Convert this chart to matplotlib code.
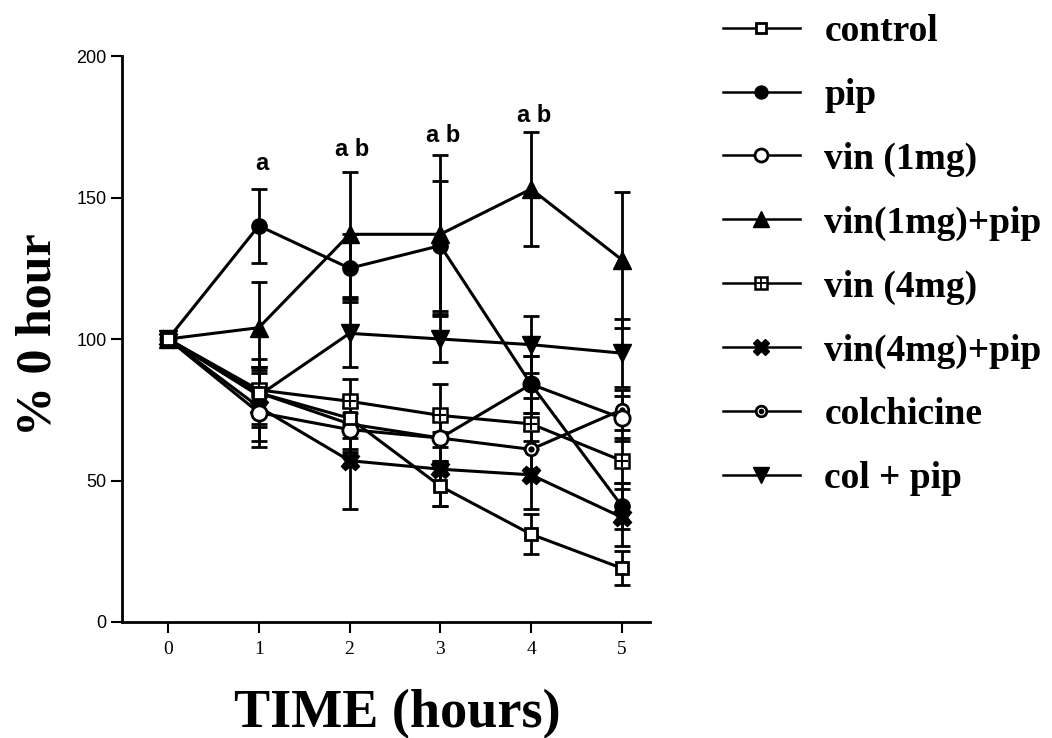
import matplotlib
matplotlib.use("Agg")
import matplotlib.pyplot as plt
from matplotlib.lines import Line2D
from matplotlib.legend_handler import HandlerTuple
import numpy as np

# ---------------- data ----------------
hours = [0, 1, 2, 3, 4, 5]
series_names = ["control", "pip", "vin (1mg)", "vin(1mg)+pip", "vin (4mg)",
                "vin(4mg)+pip", "colchicine", "col + pip"]

control = [100, 81, 72, 48, 31, 19]
pip = [100, 140, 125, 133, 84, 41]
vin1 = [100, 74, 68, 65, 84, 72]
vin1_pip = [100, 104, 137, 137, 153, 128]
vin4 = [100, 82, 78, 73, 70, 57]
vin4_pip = [100, 76, 57, 54, 52, 37]
colchicine = [100, 81, 70, 65, 61, 75]
col_pip = [100, 80, 102, 100, 98, 95]

control_err = [0, 8, 7, 7, 7, 6]
pip_err = [0, 13, 12, 23, 10, 8]
vin1_err = [0, 10, 8, 8, 10, 8]
vin1_pip_err = [0, 16, 22, 28, 20, 24]
vin4_err = [0, 8, 8, 11, 9, 8]
vin4_pip_err = [0, 14, 17, 13, 12, 10]
colchicine_err = [0, 12, 9, 8, 7, 7]
col_pip_err = [0, 10, 12, 8, 10, 12]

sig_hours = [1, 2, 3, 4]
sig_labels = ["a", "a b", "a b", "a b"]
sig_y = [162, 167, 172, 179]

yticks = [0, 50, 100, 150, 200]
xticks = [0, 1, 2, 3, 4, 5]

# ---------------- figure ----------------
fig = plt.figure(figsize=(10.52, 7.38), dpi=100)
ax = fig.add_axes([122 / 1052, (738 - 622) / 738, (650 - 122) / 1052, (622 - 56) / 738])

K = "black"
LW = 2.2

styles = {
    "control": dict(marker="s", ms=9, mfc="white", mec=K, mew=2),
    "pip": dict(marker="o", ms=11, mfc=K, mec=K),
    "vin (1mg)": dict(marker="o", ms=11, mfc="white", mec=K, mew=2),
    "vin(1mg)+pip": dict(marker="^", ms=13, mfc=K, mec=K),
    "vin (4mg)": dict(marker="s", ms=10, mfc="white", mec=K, mew=1.8),
    "vin(4mg)+pip": dict(marker="X", ms=13, mfc=K, mec=K),
    "colchicine": dict(marker="o", ms=9, mfc="white", mec=K, mew=2),
    "col + pip": dict(marker="v", ms=13, mfc=K, mec=K),
}

data = {
    "control": (control, control_err),
    "pip": (pip, pip_err),
    "vin (1mg)": (vin1, vin1_err),
    "vin(1mg)+pip": (vin1_pip, vin1_pip_err),
    "vin (4mg)": (vin4, vin4_err),
    "vin(4mg)+pip": (vin4_pip, vin4_pip_err),
    "colchicine": (colchicine, colchicine_err),
    "col + pip": (col_pip, col_pip_err),
}

x = np.array(hours)
draw_order = ["col + pip", "vin(4mg)+pip", "colchicine", "vin (4mg)", "vin(1mg)+pip",
              "vin (1mg)", "pip", "control"]
for i, name in enumerate(draw_order):
    vals, errs = data[name]
    vals = np.array(vals, float)
    errs = np.array(errs, float)
    ax.errorbar(x[1:], vals[1:], yerr=errs[1:], fmt="none", ecolor=K,
                elinewidth=2, capsize=6, capthick=2, zorder=2)
    ax.plot(x, vals, color=K, lw=LW, zorder=3 + i, **styles[name])
    if name == "vin (4mg)":
        ax.plot(x, vals, ls="none", marker="+", ms=9, mew=1.5, color=K, zorder=3 + i)
    if name == "colchicine":
        ax.plot(x, vals, ls="none", marker="o", ms=3.5, color=K, zorder=3 + i)

for hx, lab, hy in zip(sig_hours, sig_labels, sig_y):
    ax.text(hx + 0.03, hy, lab, ha="center", va="center", fontsize=17,
            fontweight="bold", family="Liberation Sans")

ax.set_xlim(-0.507, 5.31)
ax.set_ylim(0, 200)
ax.set_xticks(xticks)
ax.set_yticks(yticks)
ax.set_xticklabels([str(t) for t in xticks], family="Liberation Serif", fontsize=14)
ax.set_yticklabels([str(t) for t in yticks], family="Liberation Sans", fontsize=13)
ax.tick_params(axis="both", direction="out", width=1.5, length=8, color=K)
ax.tick_params(axis="x", pad=6)
ax.tick_params(axis="y", pad=3)
for s in ["top", "right"]:
    ax.spines[s].set_visible(False)
for s in ["left", "bottom"]:
    ax.spines[s].set_linewidth(2)

ax.set_xlabel("TIME (hours)", family="Liberation Serif", fontweight="bold",
              fontsize=39)
ax.xaxis.set_label_coords((397 - 122) / 528, (622 - 689) / 566)
ax.set_ylabel("% 0 hour", family="Liberation Serif", fontweight="bold",
              fontsize=36)
ax.yaxis.set_label_coords((62 - 122) / 528, (622 - 335) / 566)

# ---------------- legend ----------------
handles = []
for name in series_names:
    base = Line2D([], [], color=K, lw=1.8, **{k: (v * 0.85 if k == "ms" else v)
                                               for k, v in styles[name].items()})
    if name == "vin (4mg)":
        over = Line2D([], [], ls="none", marker="+", ms=8, mew=1.3, color=K)
        handles.append((base, over))
    elif name == "colchicine":
        over = Line2D([], [], ls="none", marker="o", ms=3, color=K)
        handles.append((base, over))
    else:
        handles.append(base)

leg = fig.legend(handles, series_names, loc="upper left",
                 bbox_to_anchor=(689 / 1052, 1 + 20 / 738),
                 handler_map={tuple: HandlerTuple(ndivide=1, pad=0)},
                 frameon=False, handlelength=2.05, handletextpad=0.66,
                 labelspacing=0.77,
                 prop=dict(family="Liberation Serif", weight="bold", size=27))

fig.savefig("out.png", dpi=100)
